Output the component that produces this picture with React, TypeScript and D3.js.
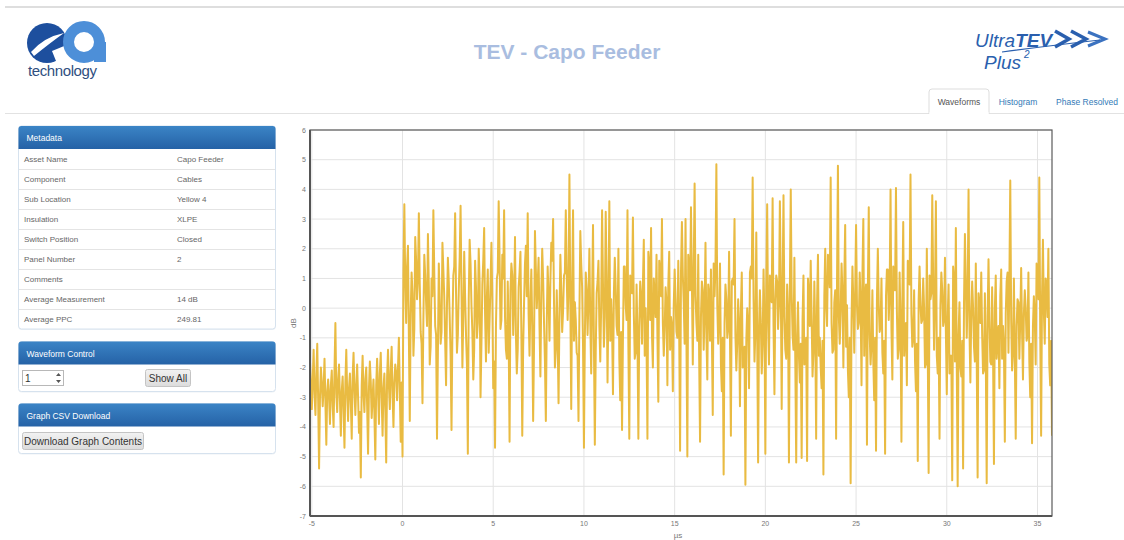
import React from "react";
import * as d3 from "d3";

// ---------- DATA ----------
const T_START = -5.1; // µs, first sample
const T_STEP = 0.1; // µs between main samples (a half-step sample sits between each pair)

// pre-trigger noise, -5.1 .. 0.0 µs (dB)
const preTrigger = [
  -1.8, -3.4, -1.4, -3.6, -1.2, -5.4, -2.0, -3.3, -1.7, -4.6,
  -2.4, -3.9, -2.1, -4.0, -0.5, -3.5, -1.9, -4.3, -2.3, -4.7,
  -1.4, -3.8, -2.2, -4.4, -1.5, -3.6, -1.9, -4.2, -5.7, -1.6,
  -3.5, -2.0, -4.9, -1.8, -3.7, -2.4, -5.1, -1.7, -3.9, -1.5,
  -4.3, -2.2, -5.2, -1.4, -3.4, -1.3, -4.0, -1.9, -3.1, -1.0,
  -4.5, -5.0,
];

// post-trigger waveform, 0.1 .. 35.8 µs (dB)
const postTrigger = [
  3.5, -0.5, 2.1, -3.8, 1.2, -1.6, 2.4, 0.3, 3.2, -0.8,
  -3.2, 1.8, 0.2, 2.5, -1.9, 1.0, 3.3, -0.6, -4.4, 1.5,
  -1.2, 2.2, 0.4, -2.6, 1.7, -0.3, -4.1, 1.1, 3.2, -1.5,
  0.6, 3.45, -2.0, 1.9, -0.9, -4.9, 2.3, 0.1, -2.4, 1.6,
  -1.0, 2.0, -3.0, 0.8, 2.7, -1.8, 1.3, -0.4, 2.2, -2.7,
  -4.7, 1.0, 3.6, -0.7, 1.8, 3.3, -1.4, 0.9, -4.5, 1.5,
  -0.9, 2.4, -2.2, 0.7, 1.9, -4.3, 0.2, 2.1, 3.2, -1.6,
  1.3, -3.8, 2.6, 0.0, 1.7, -2.3, 2.0, -0.5, -3.8, 1.4,
  -1.1, 2.2, 3.0, -2.0, 0.6, -3.2, 1.8, -0.8, 1.1, 3.3,
  -0.4, 4.5, -3.4, 3.3, 0.2, -1.5, -3.8, 2.6, 0.7, -4.7,
  1.2, -0.9, 2.0, -2.2, 2.8, -4.6, 0.5, 1.6, -1.8, 3.3,
  -1.3, 3.25, -2.5, 3.6, 0.3, -2.9, 1.7, -0.6, 2.0, -3.1,
  -4.1, 1.4, 0.1, 3.3, -4.4, 1.0, 3.05, -1.7, 0.8, -4.4,
  0.9, -1.2, 2.3, 0.0, -4.4, 1.5, 2.7, -2.0, 0.4, 1.8,
  -3.15, 1.1, 3.0, -1.6, 0.7, -2.6, 1.9, -0.3, -2.8, 1.3,
  -0.8, 1.6, -4.8, 2.9, 0.2, 3.0, -5.0, 1.2, 3.4, -1.9,
  4.2, -0.5, 1.8, -4.5, 0.9, -1.4, 2.2, -2.4, 0.5, 1.3,
  -3.6, 0.4, 4.85, -1.2, 1.5, -2.8, -5.6, 0.8, -1.0, 1.9,
  -4.3, 1.0, 3.0, -2.1, 0.3, -3.3, 1.2, -1.6, -5.95, 0.0,
  -2.7, 1.4, 4.4, -1.8, 2.55, -5.2, 0.6, -2.2, 1.3, -4.9,
  3.5, -1.9, 0.4, 3.7, -2.9, 1.1, -0.7, 3.6, -3.4, 3.8,
  -1.4, 0.8, -5.2, 4.0, -0.9, 1.7, -5.2, 0.2, -2.5, -5.05,
  1.1, -1.8, -5.15, 0.5, 1.6, -2.3, 0.9, -4.4, 1.8, -1.0,
  -2.7, -5.6, 2.0, -0.6, 1.3, 4.4, -1.5, 0.2, -4.4, 4.8,
  -1.2, 1.5, -2.0, 2.8, 0.1, -3.0, -5.9, 1.4, -1.5, 2.8,
  -0.7, 1.2, -2.6, 3.0, 0.4, -4.6, 3.4, -1.9, 0.6, -3.1,
  -4.8, 2.0, -0.8, 1.0, -2.2, -4.9, 1.3, -0.4, 4.0, -2.4,
  0.7, 4.05, -1.7, 1.2, -4.5, 2.9, -0.9, -2.6, 1.1, 4.5,
  -1.3, 0.6, -2.8, -5.15, 1.4, -0.5, 1.0, -2.0, 2.0, -5.55,
  0.3, 3.8, -1.4, 3.6, -2.2, -4.4, 1.2, -0.6, 1.7, -2.9,
  0.8, -1.6, -5.8, 1.0, 2.7, -6.0, 0.2, -2.3, -5.4, 2.5,
  -1.0, 4.0, -2.5, 0.9, -1.3, 1.5, -5.7, 0.0, 1.2, -2.2,
  0.5, -5.9, 1.65, -1.8, 0.7, -5.25, 1.1, -0.9, -2.7, 1.3,
  -0.6, -4.5, 0.9, -1.5, 4.3, -2.1, 1.0, -4.4, 0.3, -1.7,
  1.35, -2.4, 0.6, -1.1, 1.2, -3.0, -4.55, 0.4, -1.9, 1.0,
  4.4, -4.3, 2.3, -1.2, 0.8, 2.0, -2.6, -4.3,
];

// half-step samples, pre-trigger (-5.05 .. -0.05 µs)
const preTriggerMid = [
  -2.6, -2.4, -2.9, -2.2, -3.1, -3.0, -2.5, -2.7, -3.2, -2.8,
  -3.0, -2.6, -3.3, -2.1, -2.9, -2.4, -3.1, -2.8, -3.4, -2.5,
  -2.9, -2.7, -3.2, -2.3, -2.8, -2.6, -3.0, -3.5, -2.6, -2.9,
  -2.4, -3.3, -2.7, -2.5, -3.0, -3.6, -2.6, -2.8, -2.2, -3.0,
  -2.7, -3.4, -2.3, -2.6, -2.1, -2.9, -2.5, -2.2, -2.0, -2.8,
  -2.5,
];

// half-step samples, post-trigger (0.05 .. 35.75 µs)
const postTriggerMid = [
  1.2, 0.9, 1.4, -1.0, -0.2, 0.5, -0.7, 1.6, 1.0, 0.8,
  -1.2, -0.4, 1.1, -0.6, 0.7, -1.3, 0.4, 1.2, -0.9, -1.5,
  0.2, -0.8, 1.3, -1.1, 0.1, 0.9, -1.6, -0.7, 1.4, 0.5,
  -0.9, 1.7, 0.6, -0.3, 0.4, -1.9, 0.3, 1.5, -0.8, -1.4,
  0.7, -0.5, 0.9, -1.2, 1.6, -0.2, 0.4, -1.5, 0.8, 0.3,
  -1.8, -0.6, 1.2, 1.7, -0.4, 1.0, -0.3, -1.7, -0.9, 0.6,
  1.1, 0.3, -0.9, -1.4, 1.2, -0.8, -1.3, 1.5, 0.4, -0.2,
  0.2, -0.7, -1.2, 1.3, 0.8, -0.6, 0.5, 1.0, -1.8, -0.5,
  0.4, 0.9, 1.6, 0.2, -1.4, -0.9, -0.3, 0.6, -0.1, 1.2,
  1.1, 0.7, 0.1, 0.8, -1.1, -0.4, -1.6, -0.2, 1.5, -1.3,
  -1.0, 0.6, 0.3, -0.5, 0.4, -1.2, -1.5, 0.9, -0.6, 0.1,
  0.8, -0.3, 0.9, 0.2, -1.1, -0.6, 0.5, 0.7, -0.9, -1.7,
  -0.8, -1.0, 1.4, -0.4, -1.3, 1.1, 0.5, -0.2, -1.5, -1.0,
  -0.6, 0.4, 0.8, -1.6, -1.2, 1.9, -0.4, -0.9, 1.0, -0.3,
  -0.9, 1.6, 0.4, -0.5, -0.7, 0.2, 0.8, -1.4, -0.6, 0.1,
  0.3, -1.0, -0.8, 1.2, 1.1, -1.2, -1.1, 1.8, 0.6, 0.9,
  1.3, 0.4, -1.1, -1.6, -0.3, 0.6, -0.1, -0.9, 0.8, -1.1,
  -0.8, 1.5, 1.4, 0.1, -0.4, -1.9, -1.0, -0.5, 0.3, -0.7,
  -1.0, 0.9, 0.8, -0.9, -1.2, -0.6, -0.1, -2.0, -1.3, -1.1,
  -0.6, 1.2, 1.0, 0.3, -0.8, -1.0, -0.7, -0.5, -1.2, -0.4,
  0.7, -0.5, 1.1, 0.2, -0.6, 0.3, 0.9, 0.1, 0.8, 0.6,
  -0.3, -1.7, -0.2, 0.6, 0.5, -1.4, -1.8, -0.9, -1.6, -1.2,
  -0.4, -1.9, -1.0, 1.0, -0.6, -0.3, -1.5, -0.8, 0.2, -1.6,
  -2.0, -1.1, 0.4, 0.1, 1.8, 0.7, -0.5, -1.4, 0.6, 0.9,
  -0.3, -0.1, 0.5, 0.9, -1.3, -2.1, -1.0, -0.4, 0.2, 0.5,
  0.1, -0.5, 0.2, 1.1, -1.6, 0.8, 0.6, -0.9, -1.2, -1.8,
  -1.0, 0.3, 0.1, -0.6, -1.5, -1.1, 0.4, 1.3, 0.5, -0.7,
  1.4, 0.6, -0.1, -1.4, -0.5, 0.2, -1.6, -0.5, 1.6, 0.8,
  -0.2, -1.0, -1.8, -1.2, 0.3, 0.1, -0.4, 0.0, -1.9, -1.3,
  1.1, 0.5, 0.9, 0.4, -1.6, -1.0, 0.1, 0.6, -0.4, -0.8,
  -0.3, -2.2, -1.6, 1.4, -1.8, -1.9, -0.9, -2.0, -1.1, 0.2,
  0.8, 0.4, -0.7, -0.2, 0.0, -1.8, -1.7, 0.5, -0.5, -0.9,
  -2.1, -1.6, -0.3, -0.4, -1.9, -1.5, 0.0, -1.7, -0.6, 0.4,
  -1.7, -1.3, -0.2, 1.2, 0.9, -0.4, -1.5, -1.6, -0.6, 0.2,
  -0.4, -0.8, -0.2, 0.0, -0.9, -1.8, -1.2, -0.6, -0.3, 1.5,
  0.3, -0.7, 0.4, -0.1, 1.0, -0.3, -1.9, -1.1,
];

const xTicks = [-5, 0, 5, 10, 15, 20, 25, 30, 35];
const yTicks = [-7, -6, -5, -4, -3, -2, -1, 0, 1, 2, 3, 4, 5, 6];

const metaLabels = [
  "Asset Name",
  "Component",
  "Sub Location",
  "Insulation",
  "Switch Position",
  "Panel Number",
  "Comments",
  "Average Measurement",
  "Average PPC",
];
const metaValues = ["Capo Feeder", "Cables", "Yellow 4", "XLPE", "Closed", "2", "", "14 dB", "249.81"];

const tabs = ["Waveforms", "Histogram", "Phase Resolved"];

// ---------- LAYOUT ----------
const W = 1124;
const H = 540;
const plot = { left: 310, right: 1052, top: 130, bottom: 516 };
const FONT = "'Liberation Sans', Arial, Helvetica, sans-serif";

function Panel({ x, y, w, h, title, id }: { x: number; y: number; w: number; h: number; title: string; id: string }) {
  return (
    <g>
      <rect x={x} y={y + 1} width={w} height={h} rx={3} fill="#eef2f6" />
      <rect x={x} y={y} width={w} height={h} rx={3} fill="#fff" stroke="#d6e2ee" strokeWidth={1} />
      <path
        d={`M${x} ${y + 23} V${y + 3} Q${x} ${y} ${x + 3} ${y} H${x + w - 3} Q${x + w} ${y} ${x + w} ${y + 3} V${y + 23} Z`}
        fill={`url(#${id})`}
      />
      <text x={x + 8} y={y + 15} fontSize={8.5} fill="#fff" fontFamily={FONT}>
        {title}
      </text>
    </g>
  );
}

export default function App() {
  const main = [...preTrigger, ...postTrigger];
  const mids = [...preTriggerMid, ...postTriggerMid];
  const points: [number, number][] = [];
  main.forEach((v, i) => {
    points.push([T_START + i * T_STEP, v]);
    if (i < main.length - 1 && i < mids.length) points.push([T_START + (i + 0.5) * T_STEP, mids[i]]);
  });

  const xScale = d3
    .scaleLinear()
    .domain([T_START, T_START + (main.length - 1) * T_STEP])
    .range([plot.left, plot.right]);
  const yScale = d3.scaleLinear().domain([-7, 6]).range([plot.bottom, plot.top]);
  const line = d3
    .line<[number, number]>()
    .x((d) => xScale(d[0]))
    .y((d) => yScale(d[1]));

  const rowTop = 149.5;
  const rowH = 20;

  return (
    <svg
      width={W}
      height={H}
      viewBox={`0 0 ${W} ${H}`}
      style={{ position: "absolute", left: 0, top: 0, display: "block", background: "#fff" }}
    >
      <defs>
        {["hd1", "hd2", "hd3"].map((id) => (
          <linearGradient key={id} id={id} x1="0" y1="0" x2="0" y2="1">
            <stop offset="0" stopColor="#3b84c6" />
            <stop offset="1" stopColor="#2562a6" />
          </linearGradient>
        ))}
        <linearGradient id="btn" x1="0" y1="0" x2="0" y2="1">
          <stop offset="0" stopColor="#f2f2f2" />
          <stop offset="1" stopColor="#dcdcdc" />
        </linearGradient>
        <clipPath id="plotclip">
          <rect x={plot.left} y={plot.top} width={plot.right - plot.left} height={plot.bottom - plot.top} />
        </clipPath>
      </defs>

      {/* top border */}
      <rect x={5} y={6} width={W - 5} height={2} fill="#dedede" />

      {/* ea technology logo */}
      <g>
        <circle cx={47} cy={43} r={20} fill="#1d4f9e" />
        <path d="M31 52 Q44 37 64 33 Q50 43 34 56 Z" fill="#fff" />
        <path d="M52 51 L69 44 L69 66 L58 66 Z" fill="#fff" />
        <circle cx={84} cy={42} r={15.5} fill="none" stroke="#4d8fd8" strokeWidth={11} />
        <rect x={94} y={42} width={12} height={20} fill="#4d8fd8" />
        <text x={28} y={76} fontSize={15} fill="#2f4f7f" fontFamily={FONT} letterSpacing={-0.4}>
          technology
        </text>
      </g>

      {/* title */}
      <text x={567} y={59} textAnchor="middle" fontSize={21} fontWeight="bold" fill="#a9bde0" fontFamily={FONT}>
        TEV - Capo Feeder
      </text>

      {/* UltraTEV Plus2 logo */}
      <g fontFamily={FONT} fill="#2a5fae" fontStyle="italic">
        <text x={975} y={47} fontSize={19}>
          Ultra<tspan fontWeight="bold">TEV</tspan>
        </text>
        <path d="M1055 31 L1069 39 L1055 47" fill="none" stroke="#2a5fae" strokeWidth={3.5} />
        <path d="M1071 31 L1086 39 L1071 47" fill="none" stroke="#2a5fae" strokeWidth={3.5} />
        <path d="M1088 32 L1105 39 L1088 46" fill="none" stroke="#3b72c0" strokeWidth={3} />
        <path d="M1002 52 Q1055 45 1100 40" fill="none" stroke="#2a5fae" strokeWidth={1.2} />
        <text x={984} y={69} fontSize={19}>
          Plus
        </text>
        <text x={1024} y={58} fontSize={10}>
          2
        </text>
      </g>

      {/* tabs */}
      <line x1={5} x2={W} y1={113.5} y2={113.5} stroke="#e2e2e2" strokeWidth={1} />
      <path d="M929 114 V92 Q929 89 932 89 H986 Q989 89 989 92 V114" fill="#fff" stroke="#dddddd" />
      <rect x={929.5} y={112} width={59} height={3} fill="#fff" />
      {tabs.map((t, i) => (
        <text
          key={t}
          x={[959, 1018, 1087][i]}
          y={105}
          textAnchor="middle"
          fontSize={8.5}
          fill={i === 0 ? "#555" : "#337ab7"}
          fontFamily={FONT}
        >
          {t}
        </text>
      ))}

      {/* Metadata panel */}
      <Panel x={18.5} y={126} w={257} h={203} title="Metadata" id="hd1" />
      {metaLabels.map((lab, i) => (
        <g key={lab}>
          {i > 0 && (
            <line x1={19} x2={275} y1={rowTop + i * rowH} y2={rowTop + i * rowH} stroke="#e4e4e4" strokeWidth={1} />
          )}
          <text x={24} y={rowTop + i * rowH + 12.5} fontSize={8} fill="#666" fontFamily={FONT}>
            {lab}
          </text>
          <text x={177} y={rowTop + i * rowH + 12.5} fontSize={8} fill="#666" fontFamily={FONT}>
            {metaValues[i]}
          </text>
        </g>
      ))}

      {/* Waveform Control panel */}
      <Panel x={18.5} y={341.5} w={257} h={50} title="Waveform Control" id="hd2" />
      <rect x={22.5} y={370.5} width={41} height={15} fill="#fff" stroke="#b8b8b8" />
      <text x={25} y={381.5} fontSize={10} fill="#333" fontFamily={FONT}>
        1
      </text>
      <path d="M56 376 L58.5 373 L61 376 Z M56 380 L58.5 383 L61 380 Z" fill="#555" />
      <rect x={145.5} y={369.5} width={45} height={17} rx={2} fill="url(#btn)" stroke="#c4c4c4" />
      <text x={168} y={381.5} textAnchor="middle" fontSize={10} fill="#333" fontFamily={FONT}>
        Show All
      </text>

      {/* Graph CSV Download panel */}
      <Panel x={18.5} y={403.5} w={257} h={50} title="Graph CSV Download" id="hd3" />
      <rect x={22.5} y={432.5} width={121} height={17} rx={2} fill="url(#btn)" stroke="#c4c4c4" />
      <text x={83} y={444.5} textAnchor="middle" fontSize={10} fill="#333" fontFamily={FONT}>
        Download Graph Contents
      </text>

      {/* chart */}
      <g>
        <rect x={plot.left} y={plot.top} width={plot.right - plot.left} height={plot.bottom - plot.top} fill="#fff" />
        {yTicks.map((t) => (
          <line key={"gy" + t} x1={plot.left} x2={plot.right} y1={yScale(t)} y2={yScale(t)} stroke="#e3e3e3" strokeWidth={1} />
        ))}
        {xTicks.map((t) => (
          <line key={"gx" + t} x1={xScale(t)} x2={xScale(t)} y1={plot.top} y2={plot.bottom} stroke="#e3e3e3" strokeWidth={1} />
        ))}
        <path
          d={line(points) || ""}
          fill="none"
          stroke="#e9bb42"
          strokeWidth={2}
          strokeLinejoin="round"
          clipPath="url(#plotclip)"
        />
        <rect
          x={plot.left}
          y={plot.top}
          width={plot.right - plot.left}
          height={plot.bottom - plot.top}
          fill="none"
          stroke="#5a5a5a"
          strokeWidth={1.2}
        />
        <line x1={plot.left} x2={plot.left} y1={plot.top} y2={plot.bottom} stroke="#555" strokeWidth={2} />
        <line x1={plot.left} x2={plot.right} y1={plot.bottom} y2={plot.bottom} stroke="#555" strokeWidth={2} />
        {yTicks.map((t) => (
          <text
            key={"ty" + t}
            x={plot.left - 4}
            y={yScale(t) + 2.5}
            textAnchor="end"
            fontSize={7}
            fill="#777"
            fontFamily={FONT}
          >
            {t}
          </text>
        ))}
        {xTicks.map((t) => (
          <text key={"tx" + t} x={xScale(t)} y={plot.bottom + 9.5} textAnchor="middle" fontSize={7} fill="#777" fontFamily={FONT}>
            {t}
          </text>
        ))}
        <text x={678} y={538} textAnchor="middle" fontSize={8} fill="#777" fontFamily={FONT}>
          µs
        </text>
        <text
          transform={`translate(296, ${(plot.top + plot.bottom) / 2}) rotate(-90)`}
          textAnchor="middle"
          fontSize={8}
          fill="#777"
          fontFamily={FONT}
        >
          dB
        </text>
      </g>
    </svg>
  );
}
